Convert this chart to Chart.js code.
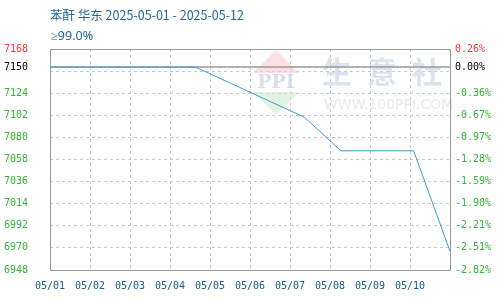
<!DOCTYPE html>
<html>
<head>
<meta charset="utf-8">
<script src="https://cdn.jsdelivr.net/npm/chart.js@4.4.0/dist/chart.umd.min.js"></script>
<style>
  html, body { margin: 0; padding: 0; background: #fff; }
  #wrap { width: 500px; height: 300px; }
</style>
</head>
<body>
<div id="wrap"><canvas id="chart"></canvas></div>
<script>
// data
const TITLE = '苯酐 华东 2025-05-01 - 2025-05-12';
const SUBTITLE = '≥99.0%';
const DATES = ['05/01', '05/02', '05/03', '05/04', '05/05', '05/06', '05/07', '05/08', '05/09', '05/10', ''];
const PRICES = [7150, 7150, 7150, 7150, 7150, 7133.33, 7116.67, 7100, 7066.67, 7066.67, 7066.67, 6966.67];
const BASE = 7150;
const Y_TICKS = [6948, 6970, 6992, 7014, 7036, 7058, 7080, 7102, 7124, 7146, 7150, 7168];
const LEFT_LABELS = ['6948', '6970', '6992', '7014', '7036', '7058', '7080', '7102', '7124', '', '7150', '7168'];
const RIGHT_LABELS = ['-2.82%', '-2.51%', '-2.21%', '-1.90%', '-1.59%', '-1.28%', '-0.97%', '-0.67%', '-0.36%', '', '0.00%', '0.26%'];

const MONO = "'DejaVu Sans Mono', monospace";
const GREEN = '#33b533';
const RED = '#ff3333';

function labelColor(ctx) {
    const v = Y_TICKS[ctx.index];
    if (v === BASE) return '#000';
    if (v > BASE) return RED;
    return GREEN;
}

const frame = {
    id: 'frame',
    beforeDatasetsDraw(chart) {
        const { ctx, chartArea: a } = chart;
        ctx.save();
        // watermark
        const cx = 276;
        ctx.fillStyle = 'rgba(248,205,205,0.6)';
        ctx.beginPath();
        ctx.moveTo(cx, 50); ctx.lineTo(cx + 23, 73); ctx.lineTo(cx - 23, 73); ctx.closePath(); ctx.fill();
        ctx.fillStyle = 'rgba(205,235,205,0.6)';
        ctx.beginPath();
        ctx.moveTo(cx - 23, 92); ctx.lineTo(cx + 23, 92); ctx.lineTo(cx, 115); ctx.closePath(); ctx.fill();
        ctx.fillStyle = 'rgba(200,208,228,0.7)';
        ctx.font = "bold 19px 'DejaVu Serif'";
        ctx.textAlign = 'center';
        ctx.textBaseline = 'middle';
        ctx.fillText('PPI', cx, 83);
        ctx.fillStyle = 'rgba(210,216,232,0.75)';
        ctx.font = "bold 30px 'Noto Sans CJK SC'";
        ctx.textAlign = 'left';
        ['生', '意', '社'].forEach((c, i) => ctx.fillText(c, 322 + i * 45, 72));
        ctx.fillStyle = 'rgba(228,228,228,0.85)';
        ctx.font = "14px 'DejaVu Sans'";
        ctx.fillText('WWW.100PPI.COM', 324, 105);
        // base line
        const y = chart.scales.y.getPixelForValue(BASE);
        ctx.strokeStyle = '#999';
        ctx.lineWidth = 1.5;
        ctx.beginPath();
        ctx.moveTo(a.left, y); ctx.lineTo(a.right, y); ctx.stroke();
        // plot border
        ctx.lineWidth = 1;
        ctx.strokeRect(a.left + 0.5, a.top + 0.5, a.right - a.left, a.bottom - a.top);
        ctx.restore();
    },
    afterDraw(chart) {
        const { ctx } = chart;
        ctx.save();
        ctx.fillStyle = '#23679b';
        ctx.font = "12.5px 'Noto Sans CJK SC'";
        ctx.textBaseline = 'alphabetic';
        ctx.fillText(TITLE, 50, 20);
        ctx.font = "12.5px 'Noto Sans'";
        ctx.fillText(SUBTITLE, 51, 40);
        ctx.restore();
    }
};

new Chart(document.getElementById('chart'), {
    type: 'line',
    data: {
        datasets: [{
            data: PRICES.map((v, i) => ({ x: i, y: v })),
            xAxisID: 'xd',
            yAxisID: 'y',
            borderColor: '#3c9ad8',
            borderWidth: 1,
            pointRadius: 0,
            tension: 0,
            fill: false
        }]
    },
    options: {
        responsive: true,
        maintainAspectRatio: false,
        animation: false,
        layout: { padding: { top: 49, left: 0, right: 0, bottom: 0 } },
        plugins: { legend: { display: false }, tooltip: { enabled: false } },
        scales: {
            x: {
                type: 'linear',
                min: 0,
                max: 10,
                afterBuildTicks: s => { s.ticks = DATES.map((d, i) => ({ value: i })); },
                afterFit: s => { s.height = 30; },
                ticks: {
                    autoSkip: false,
                    maxRotation: 0,
                    padding: 10,
                    color: '#1a5a8a',
                    font: { family: MONO, size: 10 },
                    callback: (v, i) => DATES[i]
                },
                grid: { color: '#c8c8c8', drawTicks: false },
                border: { display: false, dash: [3, 3] }
            },
            xd: {
                type: 'linear',
                min: 0,
                max: PRICES.length - 1,
                display: false
            },
            y: {
                position: 'left',
                min: 6948,
                max: 7168,
                afterBuildTicks: s => { s.ticks = Y_TICKS.map(v => ({ value: v })); },
                afterFit: s => { s.width = 50; },
                ticks: {
                    padding: 22,
                    color: labelColor,
                    font: { family: MONO, size: 10 },
                    callback: (v, i) => LEFT_LABELS[i]
                },
                grid: {
                    drawTicks: false,
                    color: ctx => (ctx.tick && (ctx.tick.value === BASE || ctx.tick.value === 7168)) ? 'rgba(0,0,0,0)' : '#c8c8c8'
                },
                border: { display: false, dash: [3, 3] }
            },
            y2: {
                position: 'right',
                min: 6948,
                max: 7168,
                afterBuildTicks: s => { s.ticks = Y_TICKS.map(v => ({ value: v })); },
                afterFit: s => { s.width = 50; },
                ticks: {
                    padding: 5,
                    color: labelColor,
                    font: { family: MONO, size: 10 },
                    callback: (v, i) => RIGHT_LABELS[i]
                },
                grid: { display: false, drawTicks: false },
                border: { display: false }
            }
        }
    },
    plugins: [frame]
});
</script>
</body>
</html>
